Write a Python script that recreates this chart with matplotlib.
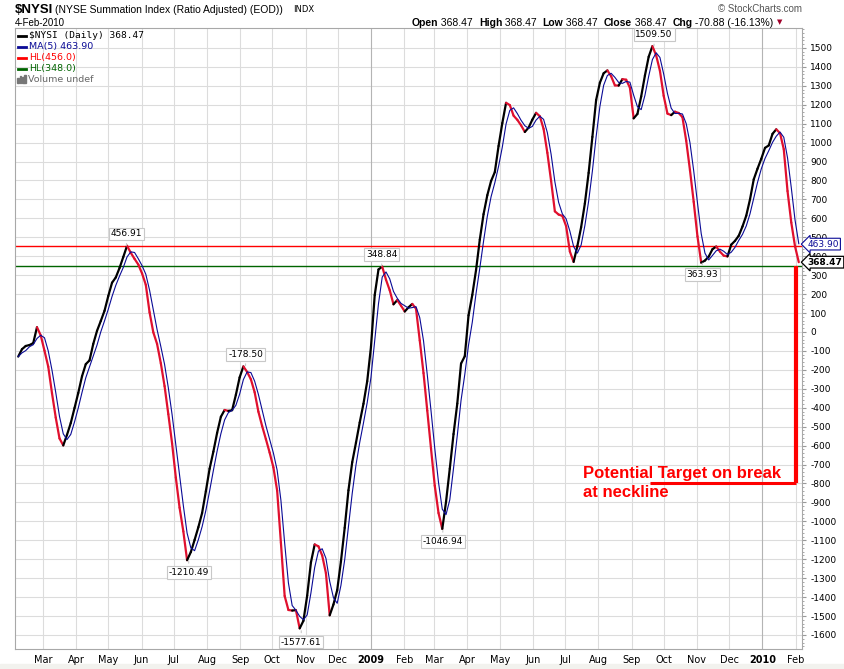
import numpy as np
import pandas as pd
import matplotlib
matplotlib.use("Agg")
import matplotlib.pyplot as plt
import matplotlib.dates as mdates
from matplotlib.collections import LineCollection
from matplotlib.patches import Rectangle

plt.rcParams["axes.unicode_minus"] = False

# $NYSI values, one every 3.5 days (7-Feb-2008 .. 4-Feb-2010)
nysi = [
    -130, -91, -74, -69, -59, 25, -18, -99, -183, -323,
    -452, -562, -599, -543, -481, -402, -322, -234, -170, -150,
    -63, 6, 58, 112, 190, 260, 288, 338, 396, 455,
    418, 386, 356, 309, 249, 104, -2, -63, -165, -286,
    -434, -588, -769, -928, -1053, -1205, -1162, -1098, -1031, -956,
    -841, -722, -632, -533, -448, -412, -417, -413, -332, -240,
    -182, -211, -250, -318, -421, -497, -566, -637, -715, -838,
    -1113, -1394, -1468, -1471, -1469, -1565, -1525, -1392, -1217, -1122,
    -1132, -1180, -1274, -1496, -1439, -1363, -1211, -1034, -836, -688,
    -585, -478, -379, -260, -79, 195, 330, 345, 276, 220,
    146, 168, 139, 108, 130, 148, 123, -45, -217, -415,
    -616, -812, -956, -1040, -897, -722, -539, -378, -167, -128,
    88, 196, 327, 488, 622, 722, 797, 844, 982, 1103,
    1210, 1198, 1142, 1120, 1091, 1056, 1079, 1121, 1157, 1139,
    1072, 946, 797, 637, 620, 613, 559, 425, 370, 454,
    553, 679, 840, 1030, 1225, 1316, 1366, 1381, 1350, 1302,
    1301, 1335, 1332, 1290, 1128, 1151, 1243, 1354, 1453, 1509,
    1460, 1379, 1247, 1153, 1145, 1163, 1156, 1134, 1010, 855,
    687, 505, 366, 377, 398, 437, 451, 424, 403, 399,
    461, 481, 508, 557, 614, 700, 806, 862, 914, 972,
    985, 1046, 1070, 1050, 965, 744, 578, 452, 368.47,
]
dates = pd.date_range(end="2010-02-04", periods=len(nysi), freq="84h")
ma5 = pd.Series(nysi).rolling(3, min_periods=1).mean().values

hl_red = 456.0
hl_green = 348.0
last_close = 368.47
last_ma = 463.90

# labelled highs / lows
peak_dates = ["2008-05-18", "2008-07-15", "2008-09-06", "2008-10-28",
              "2009-01-11", "2009-03-09", "2009-09-22", "2009-11-06"]
peak_vals = [456.91, -1210.49, -178.50, -1577.61, 348.84, -1046.94, 1509.50, 363.93]
peak_up = [True, False, True, False, True, False, True, False]

# hand drawn target
target_val = -800
target_start = "2009-09-18"
target_end = "2010-02-01"

W, H = 845, 669
fig = plt.figure(figsize=(W / 100, H / 100), dpi=100)
fig.patch.set_facecolor("white")


def px(x, y):
    return x / W, 1 - y / H


ax = fig.add_axes([15 / W, 20 / H, 787 / W, 621 / H])
ax.set_xlim(pd.Timestamp("2008-02-04"), pd.Timestamp("2010-02-07"))
ax.set_ylim(-1674, 1605)

# grid
ax.set_yticks(np.arange(-1600, 1501, 100))
ax.yaxis.set_minor_locator(matplotlib.ticker.MultipleLocator(20))
months = pd.date_range("2008-03-01", "2010-02-01", freq="MS")
ax.set_xticks(months)
labels = [m.strftime("%Y") if m.month == 1 else m.strftime("%b") for m in months]
ax.set_xticklabels(labels)
for lab, m in zip(ax.get_xticklabels(), months):
    if m.month == 1:
        lab.set_fontweight("bold")
for y in np.arange(-1600, 1501, 100):
    ax.axhline(y, color="#dcdcdc", lw=0.8, zorder=0)
for m in months:
    ax.axvline(m, color="#b4b4b4" if m.month == 1 else "#dcdcdc", lw=0.8, zorder=0)

ax.yaxis.tick_right()
ax.tick_params(axis="y", which="major", length=3, color="#999999", labelsize=6.5, pad=3)
ax.tick_params(axis="y", which="minor", length=1.5, color="#999999")
ax.tick_params(axis="x", length=0, labelsize=7, pad=4)
for sp in ax.spines.values():
    sp.set_color("#a8a8a8")
    sp.set_linewidth(0.8)

# horizontal lines
ax.axhline(hl_red, color="#ff0000", lw=1, zorder=2)
ax.axhline(hl_green, color="#006400", lw=1, zorder=2)

# price line, black when rising, red when falling
x = mdates.date2num(dates)
pts = np.column_stack([x, nysi])
segs = np.stack([pts[:-1], pts[1:]], axis=1)
cols = ["#e0102e" if nysi[i + 1] < nysi[i] else "black" for i in range(len(nysi) - 1)]
lc = LineCollection(segs, colors=cols, linewidths=1.6, capstyle="round", zorder=3)
ax.add_collection(lc)
ax.plot(dates, ma5, color="#0a0a96", lw=0.8, zorder=4)

# peak / trough labels
for d, v, up in zip(peak_dates, peak_vals, peak_up):
    ax.annotate(f"{v:.2f}", xy=(pd.Timestamp(d), v), xytext=(0, 5 if up else -5),
                textcoords="offset points", ha="center", va="bottom" if up else "top",
                fontsize=6.5, color="black",
                bbox=dict(boxstyle="square,pad=0.2", fc="white", ec="#c8c8c8", lw=0.8),
                arrowprops=dict(arrowstyle="-", color="#c8c8c8", lw=0.8), zorder=6)

# right side value tags
ax.annotate(f"{last_ma:.2f}", xy=(1, last_ma), xycoords=ax.get_yaxis_transform(),
            xytext=(4, 0), textcoords="offset points", ha="left", va="center",
            fontsize=6.5, color="#0a0a96", annotation_clip=False, zorder=7,
            bbox=dict(boxstyle="larrow,pad=0.15", fc="white", ec="#0a0a96", lw=0.8))
ax.annotate(f"{last_close:.2f}", xy=(1, last_close), xycoords=ax.get_yaxis_transform(),
            xytext=(4, 0), textcoords="offset points", ha="left", va="center",
            fontsize=6.5, color="black", fontweight="bold", annotation_clip=False, zorder=7,
            bbox=dict(boxstyle="larrow,pad=0.15", fc="white", ec="black", lw=0.9))

# target drawing
ax.plot([pd.Timestamp(target_end)] * 2, [hl_green, target_val], color="#ff0000", lw=3, zorder=5,
        solid_capstyle="butt")
ax.plot([pd.Timestamp(target_start), pd.Timestamp(target_end)], [target_val] * 2,
        color="#ff0000", lw=2.2, zorder=5, solid_capstyle="butt")
ax.text(pd.Timestamp("2009-07-18"), -707, "Potential Target on break\nat neckline",
        color="#ff0000", fontsize=12, fontweight="bold", family="Liberation Sans",
        ha="left", va="top", linespacing=1.35, zorder=6)

# legend
leg = [("$NYSI (Daily) 368.47", "black", 35.5, "DejaVu Sans Mono"),
       ("MA(5) 463.90", "#0a0a96", 46.5, "DejaVu Sans"),
       ("HL(456.0)", "#ff0000", 57.5, "DejaVu Sans"),
       ("HL(348.0)", "#006400", 68.5, "DejaVu Sans")]
for txt, c, yy, fam in leg:
    fig.add_artist(plt.Line2D([18 / W, 26 / W], [1 - yy / H] * 2, color=c, lw=2))
    fig.text(*px(29, yy), txt, color=c, fontsize=6.8, family=fam, va="center")
for i, hgt in enumerate([5, 7, 6, 8]):
    fig.add_artist(Rectangle(px(17 + i * 2.5, 83), 1.6 / W, hgt / H, color="#777777"))
fig.text(*px(28, 79.5), "Volume undef", color="#666666", fontsize=6.8, va="center")

# header
fig.text(*px(15, 10), "$NYSI", fontsize=9.5, fontweight="bold", va="center",
         family="Liberation Sans")
fig.text(*px(55, 10), "(NYSE Summation Index (Ratio Adjusted) (EOD))", fontsize=7.5,
         va="center", family="Liberation Sans")
fig.text(*px(293, 10), "INDX", fontsize=6, va="center")
fig.text(*px(15, 22.5), "4-Feb-2010", fontsize=7, va="center", family="Liberation Sans")
fig.text(*px(802, 9), "\u00a9 StockCharts.com", fontsize=7, color="#555555", ha="right",
         va="center", family="Liberation Sans")

parts = [("Open", True), (" 368.47  ", False), ("High", True), (" 368.47  ", False),
         ("Low", True), (" 368.47  ", False), ("Close", True), (" 368.47  ", False),
         ("Chg", True), (" -70.88 (-16.13%)", False)]
renderer = fig.canvas.get_renderer()
xx = 412
for s, b in parts:
    t = fig.text(*px(xx, 22.5), s, fontsize=7.5, fontweight="bold" if b else "normal",
                 va="center", family="Liberation Sans")
    bb = t.get_window_extent(renderer=renderer)
    xx += bb.width
fig.text(*px(xx + 3, 22.5), "\u25bc", fontsize=5, color="#a0002a", va="center")

# bottom band
fig.add_artist(Rectangle((0, 0), 1, 5 / H, color="#f2f2ee", zorder=0))

plt.savefig("out.png", dpi=100)
